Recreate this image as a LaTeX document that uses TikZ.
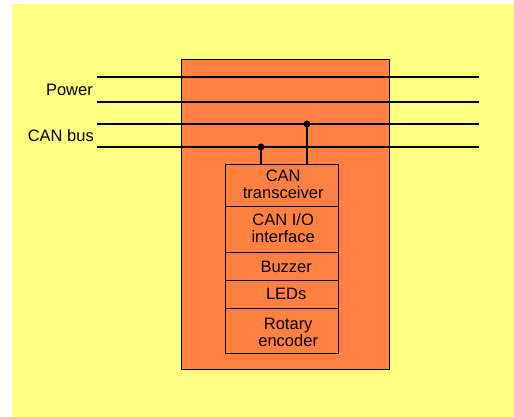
\documentclass[tikz,border=0pt]{standalone}
\usepackage{fontspec}
\setmainfont{Liberation Sans}
\definecolor{bgyellow}{RGB}{255,255,128}
\definecolor{boxorange}{RGB}{255,128,64}
\tikzset{
  wire/.style={line width=1.4pt, black},
  cell/.style={draw=black, line width=1.4pt, fill=boxorange, minimum width=113pt, inner sep=0pt, anchor=north west},
  lbl/.style={font=\fontsize{16.5}{17}\selectfont, align=center, inner sep=0pt},
  junction/.style={circle, fill=black, inner sep=0pt, minimum size=7pt},
}
\begin{document}
\begin{tikzpicture}[x=1pt,y=-1pt]
\useasboundingbox (0,0) rectangle (514,417);
\fill[white] (0,0) rectangle (514,417);
\fill[bgyellow] (12,4) rectangle (514,417);
% outer module box
\node[draw=black, line width=1.4pt, fill=boxorange, minimum width=208pt, minimum height=310pt, inner sep=0pt, anchor=north west] (module) at (181,59) {};
% bus line ends
\coordinate (p1l) at (97,77);  \coordinate (p1r) at (479,77);
\coordinate (p2l) at (97,102); \coordinate (p2r) at (479,102);
\coordinate (c1l) at (97,124); \coordinate (c1r) at (479,124);
\coordinate (c2l) at (97,147); \coordinate (c2r) at (479,147);
\draw[wire] (p1l) -- (p1r);
\draw[wire] (p2l) -- (p2r);
\draw[wire] (c1l) -- (c1r);
\draw[wire] (c2l) -- (c2r);
% labels
\node[lbl, anchor=east] (power) at (93,89.5) {Power};
\node[lbl, anchor=east] (canbus) at (94,136) {CAN bus};
% inner cells
\node[cell, minimum height=42pt] (trans) at (225,164) {};
\node[cell, minimum height=46pt] (io) at (225,206) {};
\node[cell, minimum height=28pt] (buzz) at (225,252) {};
\node[cell, minimum height=28pt] (leds) at (225,280) {};
\node[cell, minimum height=45pt] (rot) at (225,308) {};
\node[lbl] (ttrans) at ([xshift=1pt,yshift=1pt]trans.center) {CAN\\transceiver};
\node[lbl] (tio) at ([xshift=1pt,yshift=1.5pt]io.center) {CAN I/O\\interface};
\node[lbl] (tbuzz) at ([xshift=4pt]buzz.center) {Buzzer};
\node[lbl] (tleds) at ([xshift=4pt,yshift=1pt]leds.center) {LEDs};
\node[lbl] (trot) at ([xshift=6pt,yshift=-1pt]rot.center) {Rotary\\encoder};
% junctions
\node[junction] (j1) at (307,124) {};
\node[junction] (j2) at (261,147) {};
\draw[wire] (j1.center) -- (j1.center |- trans.north);
\draw[wire] (j2.center) -- (j2.center |- trans.north);
\end{tikzpicture}
\end{document}
